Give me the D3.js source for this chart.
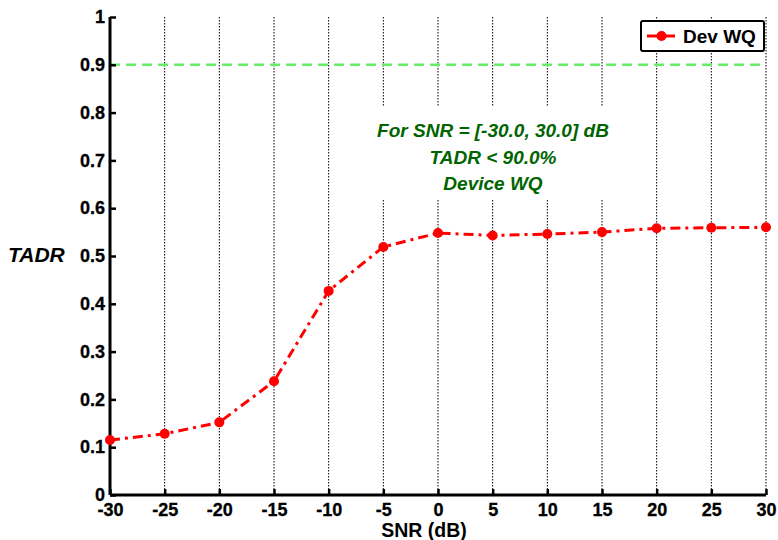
<!DOCTYPE html>
<html><head><meta charset="utf-8">
<script src="https://cdn.jsdelivr.net/npm/d3@7"></script>
<style>body{margin:0;background:#fff}svg{display:block}text{font-family:"Liberation Sans",Arial,sans-serif;font-weight:bold}</style>
</head><body>
<svg id="c" width="778" height="540"></svg>
<script>
const snr = [-30,-25,-20,-15,-10,-5,0,5,10,15,20,25,30];
const tadr = [0.115,0.128,0.152,0.238,0.427,0.519,0.548,0.543,0.546,0.550,0.558,0.559,0.560];
const xTicks = [-30,-25,-20,-15,-10,-5,0,5,10,15,20,25,30];
const yTicks = [0,0.1,0.2,0.3,0.4,0.5,0.6,0.7,0.8,0.9,1];
const threshold = 0.9;
const seriesName = "Dev WQ";
const noteLines = ["For SNR = [-30.0, 30.0] dB","TADR < 90.0%","Device WQ"];

const svg = d3.select("#c");
const L=110,R=766,T=17,B=495;
const x = d3.scaleLinear().domain([-30,30]).range([L,R]);
const y = d3.scaleLinear().domain([0,1]).range([B,T]);

// vertical dotted grid
svg.append("g").selectAll("line").data(xTicks).join("line")
  .attr("x1",d=>x(d)).attr("x2",d=>x(d)).attr("y1",T).attr("y2",B)
  .attr("stroke","#000").attr("stroke-width",1).attr("stroke-dasharray","1.5,1.5");

// threshold line
svg.append("line").attr("x1",L).attr("x2",R).attr("y1",y(threshold)).attr("y2",y(threshold))
  .attr("stroke","#66ee66").attr("stroke-width",2.5).attr("stroke-dasharray","10,6");

// annotation with white background
svg.append("rect").attr("x",374).attr("y",106).attr("width",252).attr("height",94).attr("fill","#fff");
svg.append("g").selectAll("text").data(noteLines).join("text")
  .attr("x",493).attr("y",(d,i)=>137+i*26.5).attr("text-anchor","middle")
  .attr("fill","#006400").attr("font-size",19).attr("font-style","italic").text(d=>d);

// axes
const xa = svg.append("g").attr("transform",`translate(0,${B})`)
  .call(d3.axisBottom(x).tickValues(xTicks).tickSize(-6).tickPadding(8).tickFormat(d=>String(d)));
const ya = svg.append("g").attr("transform",`translate(${L},0)`)
  .call(d3.axisLeft(y).tickValues(yTicks).tickSize(-6).tickPadding(5).tickFormat(d=>d===0?"0":d===1?"1":d3.format(".1f")(d)));
[xa,ya].forEach(a=>{
  a.select(".domain").attr("stroke","#000").attr("stroke-width",3);
  a.selectAll(".tick line").attr("stroke","#000").attr("stroke-width",2.5);
  a.selectAll(".tick text").attr("font-size",18).attr("font-family","Liberation Sans, Arial, sans-serif")
    .attr("font-weight","bold").attr("fill","#000").attr("stroke","#000").attr("stroke-width",0.3);
});
xa.selectAll(".tick text").attr("dy","0.72em");
xa.select(".domain").attr("d",`M${L},0H${R}`);
ya.select(".domain").attr("d",`M0,${B}V${T}`);

// series
const line = d3.line().x((d,i)=>x(snr[i])).y(d=>y(d));
svg.append("path").datum(tadr).attr("d",line).attr("fill","none")
  .attr("stroke","#ff0000").attr("stroke-width",3).attr("stroke-dasharray","10,5,3,5");
svg.append("g").selectAll("circle").data(tadr).join("circle")
  .attr("cx",(d,i)=>x(snr[i])).attr("cy",d=>y(d)).attr("r",5).attr("fill","#ff0000");

// labels
svg.append("text").attr("x",424).attr("y",537).attr("text-anchor","middle").attr("font-size",19.5).text("SNR (dB)");
svg.append("text").attr("x",8).attr("y",262).attr("font-size",21).attr("font-style","italic").text("TADR");

// legend
const lg = svg.append("g");
lg.append("rect").attr("x",641).attr("y",21).attr("width",123).attr("height",30).attr("rx",2)
  .attr("fill","#fff").attr("stroke","#000").attr("stroke-width",2);
lg.append("line").attr("x1",647).attr("x2",675).attr("y1",36).attr("y2",36).attr("stroke","#ff0000").attr("stroke-width",3);
lg.append("circle").attr("cx",661.5).attr("cy",36).attr("r",5).attr("fill","#ff0000");
lg.append("text").attr("x",683).attr("y",43).attr("font-size",19).text(seriesName);
</script>
</body></html>
